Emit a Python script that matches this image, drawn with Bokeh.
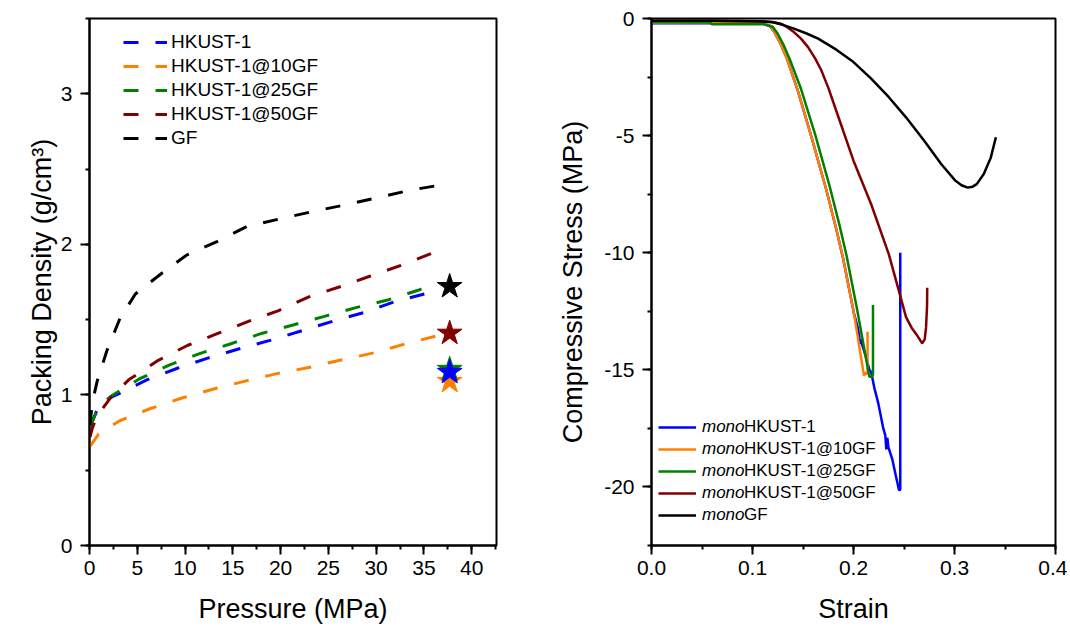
from bokeh.plotting import figure
from bokeh.layouts import row
from bokeh.models import Legend, LegendItem, SingleIntervalTicker, Range1d, NumeralTickFormatter
from bokeh.embed import file_html
from bokeh.resources import INLINE

FONT = "Liberation Sans"

# ---------------- Left panel: packing density vs pressure ----------------
left_names = ["HKUST-1", "HKUST-1@10GF", "HKUST-1@25GF", "HKUST-1@50GF", "GF"]
left_colors = ["#0000FF", "#FF8000", "#008000", "#800000", "#000000"]

hk_p = [0.15, 0.6, 1.1, 2.8, 6.0, 9.2, 12.3, 15.6, 18.9, 22.3, 25.5, 28.7, 31.9, 35.2, 36.3]
hk_d = [0.80, 0.87, 0.95, 1.00, 1.10, 1.177, 1.243, 1.305, 1.362, 1.428, 1.49, 1.547, 1.618, 1.673, 1.70]

g10_p = [0.07, 0.95, 3.2, 6.4, 9.6, 12.9, 16.2, 19.5, 22.8, 26.2, 29.8, 33.1, 36.2, 36.8]
g10_d = [0.66, 0.74, 0.83, 0.91, 0.978, 1.038, 1.09, 1.14, 1.18, 1.23, 1.28, 1.34, 1.39, 1.40]

g25_p = [0.1, 0.6, 2.2, 5.2, 8.4, 11.6, 14.8, 18.1, 21.4, 24.5, 27.9, 31.2, 34.4, 35.2]
g25_d = [0.79, 0.87, 0.99, 1.106, 1.20, 1.276, 1.34, 1.41, 1.466, 1.52, 1.58, 1.63, 1.695, 1.715]

g50_p = [0.05, 0.3, 0.8, 2.2, 4.1, 7.2, 10.3, 13.5, 16.7, 19.8, 22.9, 26.3, 29.4, 32.6, 35.8, 36.5]
g50_d = [0.72, 0.78, 0.86, 0.98, 1.10, 1.23, 1.33, 1.41, 1.49, 1.56, 1.65, 1.72, 1.79, 1.86, 1.94, 1.96]

gf_p = [0.05, 0.3, 0.8, 1.8, 3.2, 4.8, 7.4, 10.2, 13.4, 16.5, 20.0, 23.5, 26.6, 30.1, 33.6, 37.3]
gf_d = [0.80, 0.95, 1.09, 1.29, 1.51, 1.67, 1.80, 1.93, 2.02, 2.12, 2.17, 2.22, 2.26, 2.31, 2.36, 2.40]

star_p = [37.7, 37.7, 37.7, 37.7, 37.7]
star_d = [1.15, 1.09, 1.17, 1.41, 1.72]   # same order as left_names
star_order = [1, 2, 0, 3, 4]               # drawing order

# ---------------- Right panel: stress-strain ----------------
right_names = ["HKUST-1", "HKUST-1@10GF", "HKUST-1@25GF", "HKUST-1@50GF", "GF"]

m_hk_x = [0, 0.06, 0.11, 0.117, 0.122, 0.128, 0.134, 0.145, 0.159, 0.173, 0.183, 0.19, 0.2005, 0.2042,
          0.2055, 0.2063, 0.207, 0.212, 0.2157, 0.2175, 0.2208, 0.2244, 0.2295, 0.2315, 0.2325, 0.2335,
          0.2345, 0.2383, 0.2418, 0.2452, 0.2463, 0.2463]
m_hk_y = [-0.2, -0.2, -0.22, -0.32, -0.6, -1.1, -1.7, -3.1, -5.15, -7.3, -9.0, -10.3, -12.6, -13.2,
          -13.5, -13.9, -13.7, -14.4, -15.0, -15.1, -15.8, -16.4, -17.5, -17.8, -18.4, -17.9,
          -18.3, -18.8, -19.5, -20.15, -20.1, -10.0]

m_g10_x = [0, 0.06, 0.11, 0.117, 0.122, 0.128, 0.134, 0.145, 0.159, 0.173, 0.183, 0.19, 0.2005,
           0.2104, 0.2125, 0.2139, 0.2139]
m_g10_y = [-0.18, -0.18, -0.2, -0.3, -0.6, -1.1, -1.7, -3.1, -5.15, -7.3, -9.0, -10.3, -12.6,
           -15.25, -15.1, -15.2, -13.37]

m_g25_x = [0, 0.058, 0.06, 0.112, 0.12, 0.125, 0.131, 0.137, 0.148, 0.162, 0.176, 0.186, 0.193,
           0.2035, 0.2157, 0.2185, 0.2193, 0.2193]
m_g25_y = [-0.16, -0.17, -0.25, -0.25, -0.35, -0.65, -1.15, -1.75, -3.0, -4.95, -7.1, -8.8, -10.1,
           -12.4, -15.3, -15.3, -15.2, -12.23]

m_g50_x = [0, 0.06, 0.11, 0.12, 0.128, 0.134, 0.141, 0.148, 0.155, 0.162, 0.168, 0.175, 0.183, 0.2,
           0.2175, 0.235, 0.245, 0.252, 0.2575, 0.2625, 0.268, 0.2705, 0.2718, 0.2728, 0.273]
m_g50_y = [-0.1, -0.1, -0.12, -0.15, -0.22, -0.36, -0.58, -0.86, -1.22, -1.7, -2.2, -2.95, -3.95, -6.07,
           -7.93, -10.07, -11.64, -12.75, -13.2, -13.5, -13.87, -13.7, -13.2, -12.3, -11.5]

m_gf_x = [0, 0.06, 0.1, 0.11, 0.12, 0.13, 0.141, 0.153, 0.165, 0.183, 0.2, 0.2175, 0.235, 0.252,
          0.27, 0.287, 0.301, 0.307, 0.313, 0.318, 0.322, 0.329, 0.336, 0.341]
m_gf_y = [-0.1, -0.1, -0.12, -0.13, -0.16, -0.27, -0.43, -0.63, -0.86, -1.33, -1.86, -2.57, -3.36, -4.22,
          -5.22, -6.22, -6.93, -7.12, -7.22, -7.18, -7.07, -6.64, -5.93, -5.07]


def style(p):
    p.outline_line_color = "black"
    p.outline_line_width = 2
    p.xgrid.visible = False
    p.ygrid.visible = False
    p.background_fill_color = "white"
    p.border_fill_color = "white"
    for ax in (p.xaxis[0], p.yaxis[0]):
        ax.axis_line_width = 2
        ax.major_tick_line_width = 2
        ax.minor_tick_line_width = 2
        ax.major_tick_out = 9
        ax.major_tick_in = 0
        ax.minor_tick_out = 4
        ax.minor_tick_in = 0
        ax.major_label_text_font = FONT
        ax.major_label_text_font_size = "21px"
        ax.major_label_text_color = "black"
        ax.axis_label_text_font = FONT
        ax.axis_label_text_font_size = "27px"
        ax.axis_label_text_font_style = "normal"
        ax.axis_label_text_color = "black"
        ax.major_label_standoff = 6
    p.yaxis[0].major_label_standoff = 8


# ---- left figure
p1 = figure(frame_width=407, frame_height=527, x_range=Range1d(0, 42.6), y_range=Range1d(0, 3.5),
            output_backend="svg", toolbar_location=None,
            min_border_left=89, min_border_right=30, min_border_top=18, min_border_bottom=80)
style(p1)
p1.xaxis[0].ticker = SingleIntervalTicker(interval=5, num_minor_ticks=2)
p1.yaxis[0].ticker = SingleIntervalTicker(interval=1, num_minor_ticks=2)
p1.xaxis[0].axis_label = "Pressure (MPa)"
p1.yaxis[0].axis_label = "Packing Density (g/cm³)"
p1.xaxis[0].axis_label_standoff = 16
p1.yaxis[0].axis_label_standoff = 1

left_x = [hk_p, g10_p, g25_p, g50_p, gf_p]
left_y = [hk_d, g10_d, g25_d, g50_d, gf_d]
left_r = []
for xs, ys, c in zip(left_x, left_y, left_colors):
    r = p1.line(xs, ys, line_color=c, line_width=3, line_dash="15 17")
    left_r.append(r)
for i in star_order:
    p1.scatter([star_p[i]], [star_d[i]], marker="star", size=26,
               fill_color=left_colors[i], line_color=left_colors[i], line_width=1)

leg1 = Legend(items=[LegendItem(label=n, renderers=[r]) for n, r in zip(left_names, left_r)],
              location=(34, 395), glyph_width=44, glyph_height=24, label_height=24,
              label_standoff=4, spacing=0, padding=0, margin=0,
              label_text_font=FONT, label_text_font_size="19px", label_text_color="black",
              border_line_alpha=0, background_fill_alpha=0)
p1.add_layout(leg1)

# ---- right figure
p2 = figure(frame_width=404, frame_height=527, x_range=Range1d(0, 0.4), y_range=Range1d(-22.5, 0),
            output_backend="svg", toolbar_location=None,
            min_border_left=125, min_border_right=12, min_border_top=18, min_border_bottom=80)
style(p2)
p2.xaxis[0].ticker = SingleIntervalTicker(interval=0.1, num_minor_ticks=2)
p2.yaxis[0].ticker = SingleIntervalTicker(interval=5, num_minor_ticks=2)
p2.xaxis[0].formatter = NumeralTickFormatter(format="0.0")
p2.yaxis[0].formatter = NumeralTickFormatter(format="0")
p2.xaxis[0].axis_label = "Strain"
p2.yaxis[0].axis_label = "Compressive Stress (MPa)"
p2.xaxis[0].axis_label_standoff = 16
p2.yaxis[0].axis_label_standoff = 13

right_x = [m_hk_x, m_g10_x, m_g25_x, m_g50_x, m_gf_x]
right_y = [m_hk_y, m_g10_y, m_g25_y, m_g50_y, m_gf_y]
right_r = []
for xs, ys, c in zip(right_x, right_y, left_colors):
    r = p2.line(xs, ys, line_color=c, line_width=2.5)
    right_r.append(r)

common = dict(glyph_height=22, label_height=22, spacing=0, padding=0, margin=0,
              label_text_font=FONT, label_text_font_size="17px", label_text_color="black",
              border_line_alpha=0, background_fill_alpha=0)
leg2a = Legend(items=[LegendItem(label="mono", renderers=[r]) for r in right_r],
               location=(7, 19), glyph_width=38, label_standoff=6,
               label_text_font_style="italic", **common)
leg2b = Legend(items=[LegendItem(label=n, renderers=[r]) for n, r in zip(right_names, right_r)],
               location=(93, 19), glyph_width=0, label_standoff=0, **common)
p2.add_layout(leg2a)
p2.add_layout(leg2b)

layout = row(p1, p2)
open("out.html", "w").write(file_html(layout, INLINE))
